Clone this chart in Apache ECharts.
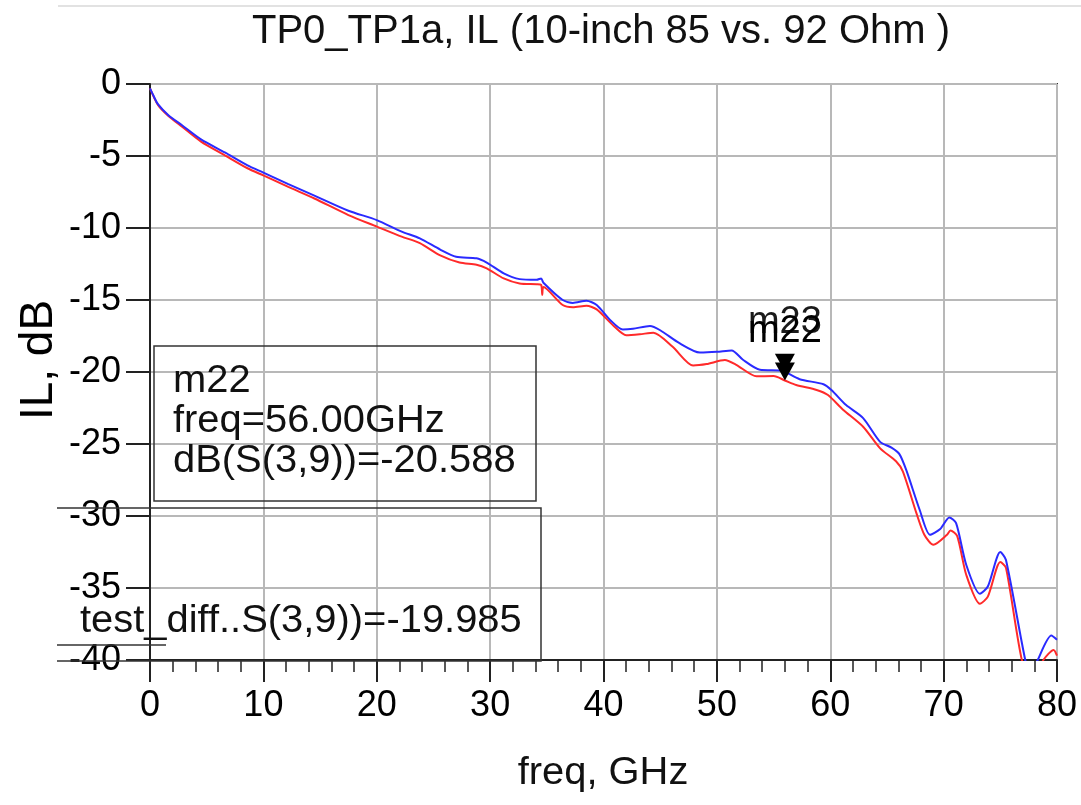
<!DOCTYPE html>
<html>
<head>
<meta charset="utf-8">
<script src="https://cdn.jsdelivr.net/npm/echarts@6/dist/echarts.min.js"></script>
<style>
html,body{margin:0;padding:0;background:#fff;}
#chart{width:1081px;height:805px;}
</style>
</head>
<body>
<div id="chart"></div>
<script>
// ---- data ----
const titleText = 'TP0_TP1a, IL (10-inch 85 vs. 92 Ohm )';
const xName = 'freq, GHz';
const yName = 'IL, dB';
const xTicks = [0, 10, 20, 30, 40, 50, 60, 70, 80];
const yTicks = [0, -5, -10, -15, -20, -25, -30, -35, -40];

// blue trace (test_diff..S(3,9))
const freqBlue = [0, 0.3, 0.7, 1.6, 2.8, 4.5, 6.6, 8.6, 10, 12.2, 14.5, 17.5, 20, 22.2, 23.8, 25.6, 27.0, 28.8, 29.7, 31.2, 32.6, 34.1, 34.5, 34.7, 36.4, 37.3, 38.5, 39.4, 40.6, 41.7, 42.6, 44.1, 45.0, 46.7, 48.5, 50.0, 51.3, 52.3, 53.8, 55.6, 56.0, 57.3, 59.4, 60.1, 61.4, 62.9, 64.4, 65.4, 66.1, 66.7, 67.9, 68.8, 69.7, 70.5, 71.1, 72.0, 73.2, 73.9, 75.0, 75.5, 77.2, 77.7, 78.3, 79.5, 80];
const dbBlue = [-0.3, -0.8, -1.4, -2.15, -2.85, -3.85, -4.75, -5.65, -6.15, -6.95, -7.75, -8.8, -9.45, -10.25, -10.72, -11.5, -12.0, -12.1, -12.4, -13.15, -13.55, -13.6, -13.5, -13.8, -15.0, -15.2, -15.05, -15.35, -16.4, -17.05, -17.0, -16.8, -17.1, -18.0, -18.65, -18.6, -18.5, -19.15, -19.85, -19.9, -19.985, -20.5, -20.85, -21.25, -22.3, -23.2, -24.85, -25.25, -25.7, -26.8, -29.6, -31.3, -30.9, -30.1, -30.5, -33.4, -35.4, -34.9, -32.5, -33.05, -40.0, -41.2, -40.0, -38.3, -38.6];

// red trace (dB(S(3,9)))
const freqRed = [0, 0.7, 1.6, 2.8, 4.5, 6.6, 8.6, 10, 12.2, 14.5, 17.5, 20, 22.2, 23.8, 25.6, 27.3, 28.8, 29.7, 31.2, 32.6, 34.1, 34.5, 34.6, 34.7, 36.4, 37.3, 38.5, 39.4, 40.9, 42.0, 43.2, 44.4, 46.1, 47.9, 49.1, 50.7, 51.7, 53.5, 55.0, 56.0, 57.0, 58.8, 59.8, 61.1, 62.9, 64.4, 65.8, 66.4, 67.6, 68.3, 69.1, 70.3, 70.6, 71.2, 72.0, 73.2, 73.9, 75.0, 75.5, 76.9, 77.8, 78.8, 79.7, 80];
const dbRed = [-0.3, -1.45, -2.2, -2.95, -4.0, -4.95, -5.85, -6.35, -7.15, -7.95, -9.1, -9.9, -10.6, -11.05, -11.9, -12.4, -12.55, -12.8, -13.5, -13.85, -13.9, -13.95, -14.65, -14.1, -15.35, -15.5, -15.4, -15.65, -16.8, -17.45, -17.38, -17.27, -18.25, -19.55, -19.45, -19.17, -19.5, -20.3, -20.28, -20.588, -20.9, -21.25, -21.6, -22.6, -23.8, -25.3, -26.2, -26.9, -29.8, -31.3, -32.0, -31.3, -31.0, -31.4, -34.1, -36.1, -35.6, -33.2, -33.6, -40.0, -41.5, -40.0, -39.3, -39.7];

// markers
const markerFreq = 56.0;
const m22Value = -20.588;
const m23Value = -19.985;
const box1Lines = ['m22', 'freq=56.00GHz', 'dB(S(3,9))=-20.588'];
const box2Line = 'test_diff..S(3,9))=-19.985';

// ---- chart ----
const FONT = 'Liberation Sans, Arial, sans-serif';
const zip = (xs, ys) => xs.map((x, i) => [x, ys[i]]);
const chart = echarts.init(document.getElementById('chart'), null, {renderer: 'canvas'});

const tri = 'path://M0,0 L10,0 L5,10 Z';

const option = {
  backgroundColor: '#ffffff',
  animation: false,
  grid: {
    left: 150, right: 24, top: 84, bottom: 145,
    show: true, borderColor: '#333', borderWidth: 2, backgroundColor: '#fff'
  },
  xAxis: {
    type: 'value', min: xTicks[0], max: xTicks[xTicks.length - 1], interval: 10,
    axisLine: {show: true, onZero: false, lineStyle: {color: '#222', width: 2}},
    axisTick: {show: true, inside: false, length: 22, lineStyle: {color: '#222', width: 2}},
    minorTick: {show: true, splitNumber: 5, length: 12, lineStyle: {color: '#222', width: 1.5}},
    axisLabel: {fontSize: 36, color: '#000', fontFamily: FONT, margin: 28},
    splitLine: {show: true, lineStyle: {color: '#b8b8b8', width: 2}}
  },
  yAxis: {
    type: 'value', min: yTicks[yTicks.length - 1], max: yTicks[0], interval: 5,
    axisLine: {show: true, onZero: false, lineStyle: {color: '#222', width: 2}},
    axisTick: {show: true, inside: false, length: 24, lineStyle: {color: '#222', width: 2}},
    axisLabel: {fontSize: 36, color: '#000', fontFamily: FONT, margin: 29},
    splitLine: {show: true, lineStyle: {color: '#b8b8b8', width: 2}}
  },
  series: [
    {
      name: 'dB(S(3,9))', type: 'line', data: zip(freqRed, dbRed),
      showSymbol: false, smooth: 0.25, clip: true,
      lineStyle: {color: '#ff2a2a', width: 2}, z: 3
    },
    {
      name: 'test_diff..S(3,9))', type: 'line', data: zip(freqBlue, dbBlue),
      showSymbol: false, smooth: 0.25, clip: true,
      lineStyle: {color: '#2a2aff', width: 2}, z: 4
    },
    {
      name: 'm23', type: 'scatter', data: [[markerFreq, m23Value]],
      symbol: tri, symbolSize: [20, 18], symbolOffset: [0, -9],
      itemStyle: {color: '#000', opacity: 1}, z: 6,
      label: {show: true, position: 'top', distance: 12, formatter: 'm23', fontSize: 38, color: '#1a1a1a', fontFamily: FONT}
    },
    {
      name: 'm22', type: 'scatter', data: [[markerFreq, m22Value]],
      symbol: tri, symbolSize: [20, 18], symbolOffset: [0, -9],
      itemStyle: {color: '#000', opacity: 1}, z: 7,
      label: {show: true, position: 'top', distance: 12, formatter: 'm22', fontSize: 38, color: '#000', fontFamily: FONT}
    }
  ],
  graphic: [
    {type: 'line', z: 100, shape: {x1: 58, y1: 6, x2: 1081, y2: 6}, style: {stroke: '#d8d8d8', lineWidth: 1.5}},
    {type: 'text', z: 100, x: 601, y: 32, style: {text: titleText, fontSize: 40, fontFamily: FONT, fill: '#111', align: 'center', verticalAlign: 'middle'}},
    {type: 'text', z: 100, x: 603, y: 774, scaleX: 1.05, style: {text: xName, fontSize: 38, fontFamily: FONT, fill: '#111', align: 'center', verticalAlign: 'middle'}},
    {type: 'text', z: 100, x: 39, y: 360, rotation: Math.PI / 2, style: {text: yName, fontSize: 46, fontFamily: FONT, fill: '#000', align: 'center', verticalAlign: 'middle'}},
    {type: 'rect', z: 100, shape: {x: 154, y: 346, width: 382, height: 155}, style: {fill: null, stroke: '#333', lineWidth: 1.5}},
    {type: 'text', z: 100, x: 173, y: 382, scaleX: 1.05, style: {text: box1Lines[0], fontSize: 38, fontFamily: FONT, fill: '#111', align: 'left', verticalAlign: 'middle'}},
    {type: 'text', z: 100, x: 173, y: 422, scaleX: 1.05, style: {text: box1Lines[1], fontSize: 38, fontFamily: FONT, fill: '#111', align: 'left', verticalAlign: 'middle'}},
    {type: 'text', z: 100, x: 173, y: 462, scaleX: 1.05, style: {text: box1Lines[2], fontSize: 38, fontFamily: FONT, fill: '#111', align: 'left', verticalAlign: 'middle'}},
    {type: 'polyline', z: 100, shape: {points: [[57, 508], [541, 508], [541, 661], [57, 661]]}, style: {fill: null, stroke: '#333', lineWidth: 1.5}},
    {type: 'line', z: 100, shape: {x1: 57, y1: 645, x2: 166, y2: 645}, style: {stroke: '#333', lineWidth: 1.5}},
    {type: 'text', z: 100, x: 80, y: 622, scaleX: 1.05, style: {text: box2Line, fontSize: 38, fontFamily: FONT, fill: '#111', align: 'left', verticalAlign: 'middle'}}
  ]
};
chart.setOption(option);
</script>
</body>
</html>
